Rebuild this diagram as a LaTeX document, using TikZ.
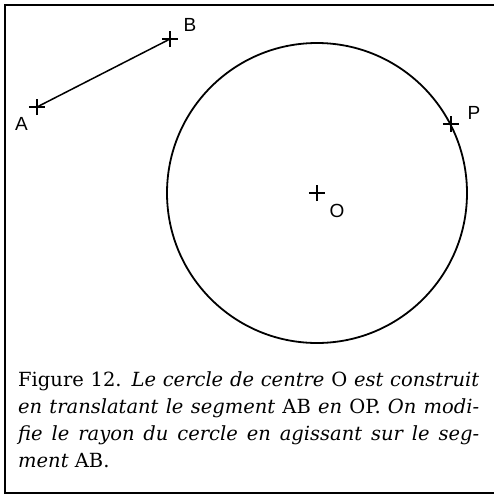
\documentclass[tikz,border=0pt]{standalone}
\usepackage{fontspec}
\setmainfont{DejaVu Serif}
\newfontfamily\etiq{Liberation Sans}
\usetikzlibrary{shapes.misc}

\begin{document}
\begin{tikzpicture}[
      x=1pt,y=-1pt,
      croix/.style={draw,shape=cross out,rotate=45,minimum size=10pt,
        inner sep=0pt,line width=1.5pt},
      lettre/.style={font=\etiq\fontsize{19}{19}\selectfont,inner sep=0pt},
      trait/.style={line width=1.5pt},
      legende/.style={font=\fontsize{19.5}{27.3}\selectfont,text width=461pt,
        align=justify,inner sep=0pt}
    ]
    \useasboundingbox (0,0) rectangle (494,496);
    \draw[line width=1.6pt] (494,5) -- (5,5) -- (5,493) -- (494,493);

    % points
    \node[croix] (A) at (37,107) {};
    \node[croix] (B) at (170,39) {};
    \node[croix] (O) at (317,193) {};
    \node[croix] (P) at (451,124) {};

    \node[lettre] (labA) at (21.5,124) {A};
    \node[lettre] (labB) at (190,25) {B};
    \node[lettre] (labO) at (337,211) {O};
    \node[lettre] (labP) at (474,113) {P};

    \draw[trait] (A.center) -- (B.center);
    \node[draw,circle,line width=1.8pt,minimum size=300pt,inner sep=0pt]
      (cercle) at (O.center) {};

    \node[legende,anchor=north west] (leg) at (18,371) {Figure 12.
      \textit{Le cercle de centre} O \textit{est construit}\linebreak
      \textit{en translatant le segment} AB \textit{en} OP. \textit{On
      modi-}\linebreak \textit{fie le rayon du cercle en agissant sur le
      seg-}\linebreak \textit{ment} AB.};
  \end{tikzpicture}
\end{document}
